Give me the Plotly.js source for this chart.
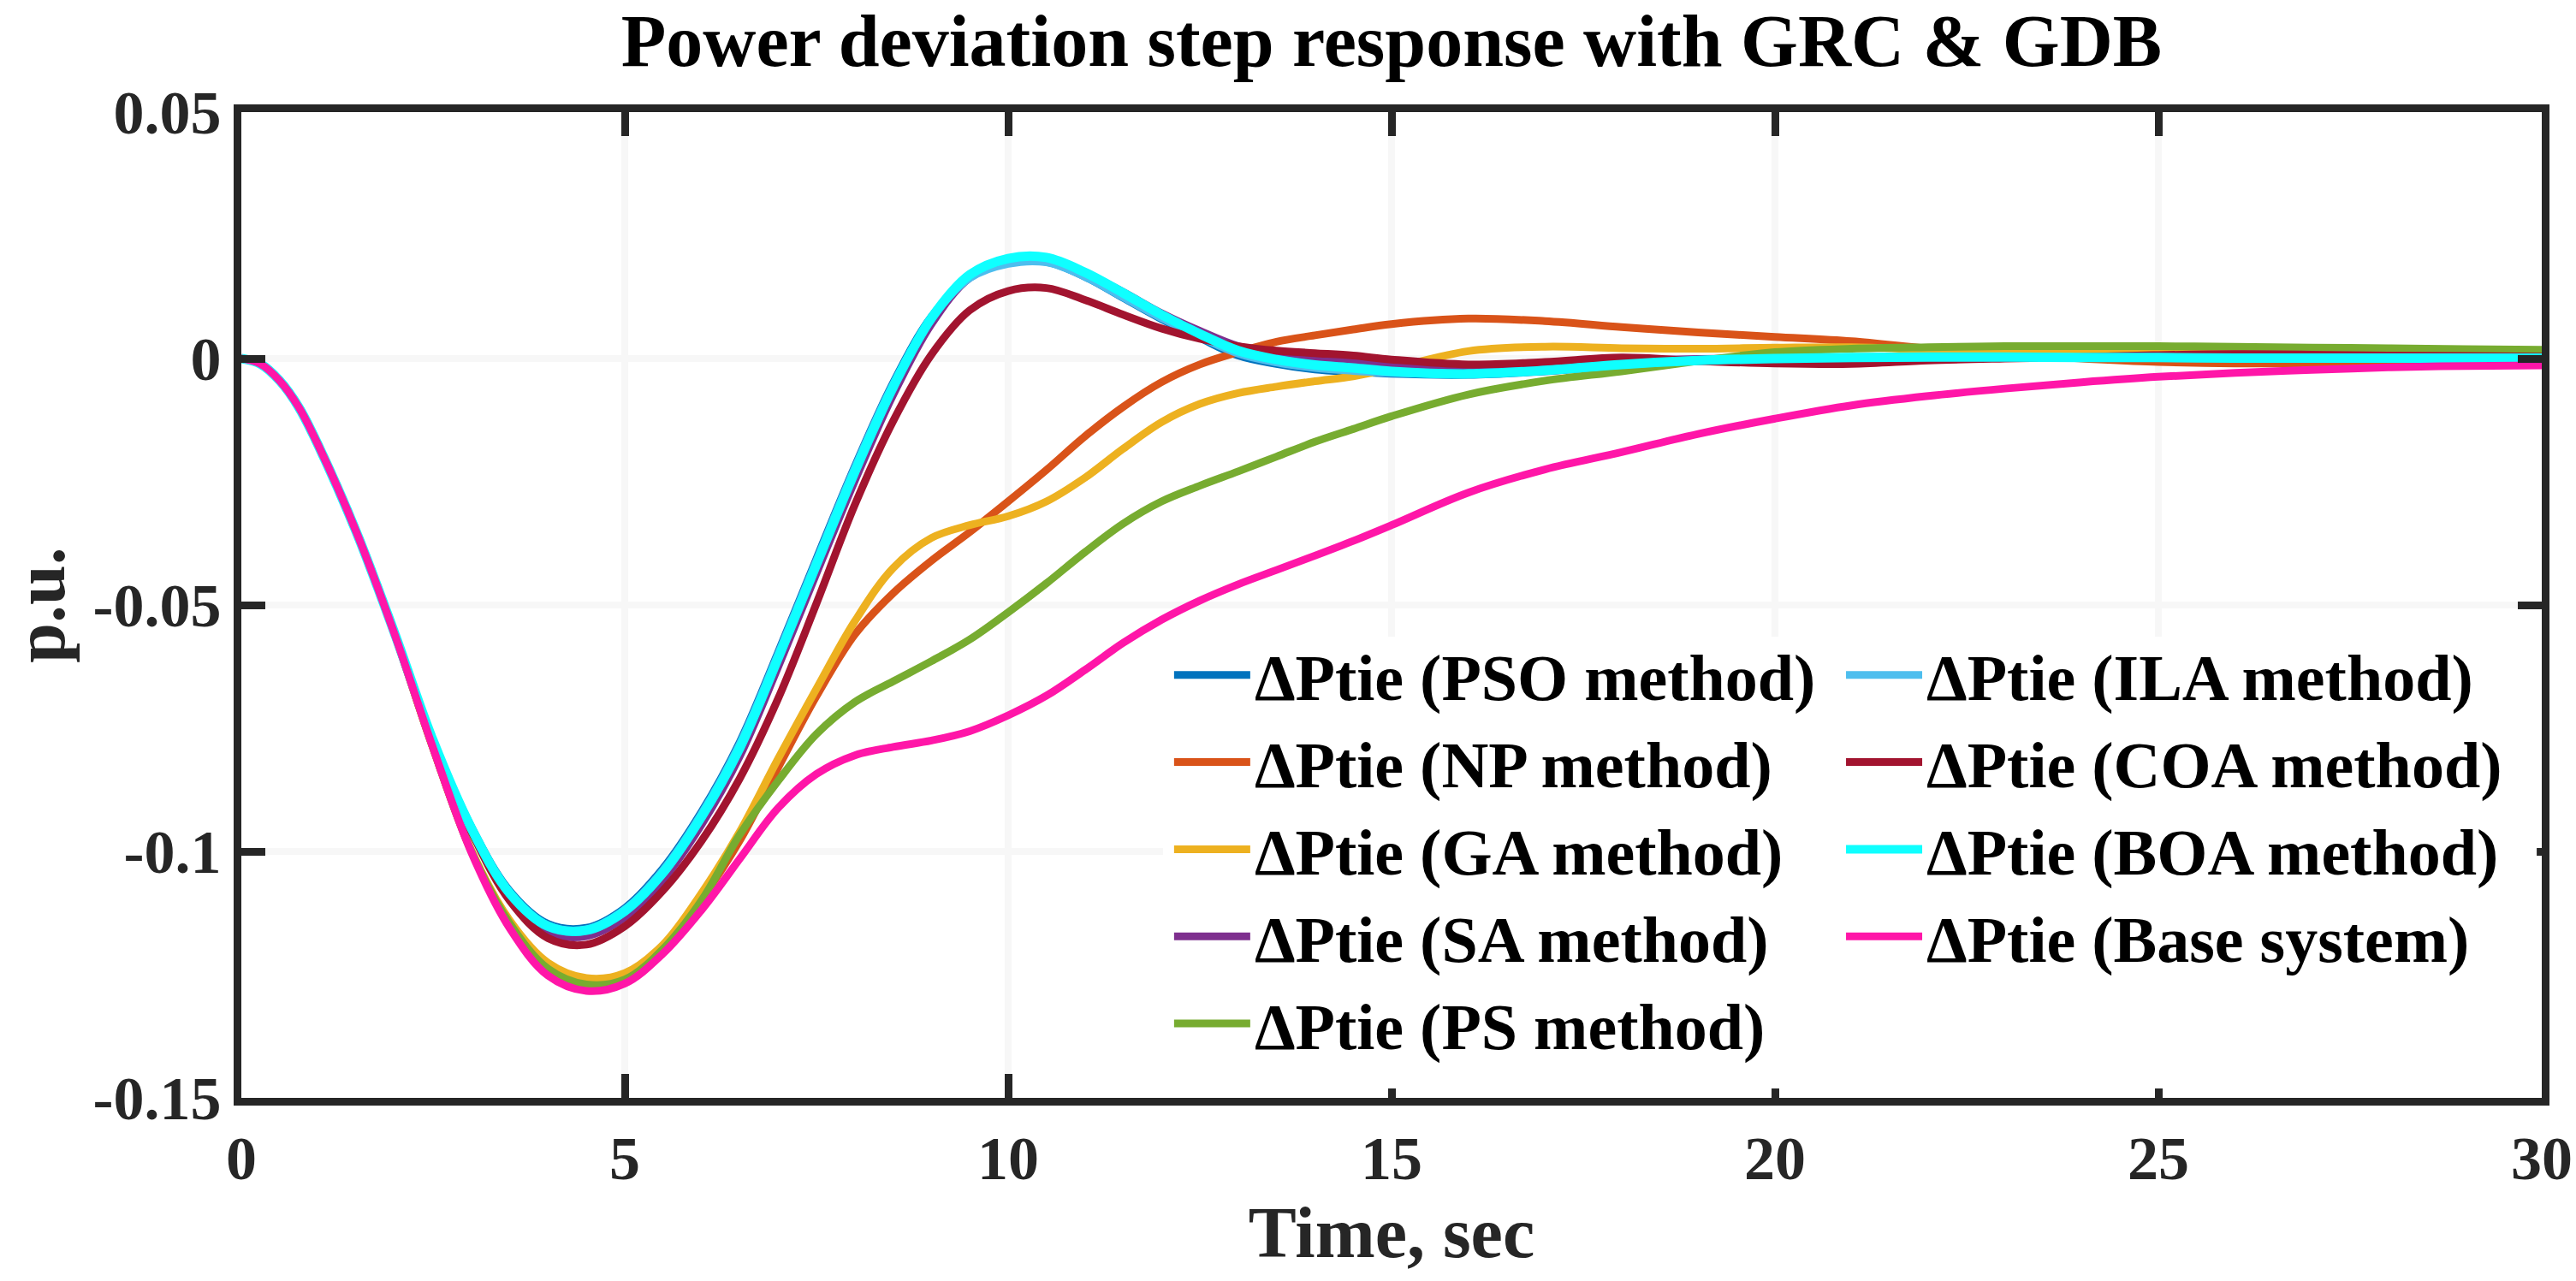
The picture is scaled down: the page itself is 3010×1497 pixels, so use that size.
<!DOCTYPE html>
<html>
<head>
<meta charset="utf-8">
<script src="https://cdn.plot.ly/plotly-3.0.1.min.js"></script>
<style>html,body{margin:0;padding:0;background:#fff}</style>
</head>
<body>
<div id="chart" style="width:3010px;height:1497px"></div>
<script>
// time axis (s)
const timeSec = [0,0.25,0.5,0.75,1,1.5,2,2.5,3,3.5,4,4.5,5,5.5,6,6.5,7,7.5,8,8.5,9,9.5,10,10.5,11,11.5,12,12.5,13,13.5,14,14.5,15,16,17,18,19,20,21,22,23,24,25,26,27,28,29,30];

// series values (p.u.)
const psoMethod = [0,-0.0011,-0.0045,-0.0099,-0.0175,-0.0352,-0.0558,-0.0774,-0.0950,-0.1080,-0.1147,-0.1155,-0.1115,-0.1034,-0.0920,-0.0778,-0.0596,-0.0406,-0.0219,-0.0049,0.0085,0.0165,0.0194,0.0196,0.0166,0.0123,0.0080,0.0042,0.0006,-0.0011,-0.0022,-0.0027,-0.0031,-0.0033,-0.0026,-0.0014,-0.0005,-0.0001,0.0001,0.0002,0.0002,0.0002,0.0001,0.0001,0.0001,0.0001,0.0001,0.0001];
const npMethod = [0,-0.0011,-0.0045,-0.0099,-0.0175,-0.0352,-0.056,-0.079,-0.1000,-0.1142,-0.1230,-0.1261,-0.1252,-0.1196,-0.1097,-0.0978,-0.0830,-0.0685,-0.0560,-0.0476,-0.0410,-0.0352,-0.0290,-0.0226,-0.0158,-0.0098,-0.0048,-0.0012,0.0013,0.0034,0.0047,0.0059,0.0070,0.0081,0.0076,0.0064,0.0053,0.0044,0.0035,0.0020,0.0008,0.0000,-0.0007,-0.0010,-0.0009,-0.0007,-0.0005,-0.0004];
const gaMethod = [0,-0.0011,-0.0045,-0.0099,-0.0175,-0.0352,-0.056,-0.079,-0.0998,-0.1140,-0.1226,-0.1257,-0.1247,-0.1189,-0.1085,-0.0960,-0.0812,-0.0670,-0.0533,-0.0425,-0.0364,-0.0338,-0.0320,-0.0290,-0.0242,-0.0183,-0.0129,-0.0092,-0.0070,-0.0057,-0.0046,-0.0036,-0.0020,0.0015,0.0024,0.0021,0.0020,0.0022,0.0023,0.0018,0.0014,0.0012,0.0011,0.0010,0.0008,0.0007,0.0007,0.0007];
const saMethod = [0,-0.0011,-0.0045,-0.0099,-0.0175,-0.0352,-0.0558,-0.0776,-0.0957,-0.1093,-0.1164,-0.1172,-0.1134,-0.1057,-0.0946,-0.0807,-0.0626,-0.0436,-0.0248,-0.0074,0.0070,0.0164,0.0197,0.0201,0.0174,0.0135,0.0092,0.0056,0.0025,0.0009,-0.0002,-0.0008,-0.0013,-0.0017,-0.0012,-0.0005,-0.0001,0.0001,0.0002,0.0002,0.0002,0.0002,0.0001,0.0001,0.0001,0.0001,0.0001,0.0001];
const psMethod = [0,-0.0011,-0.0045,-0.0099,-0.0175,-0.0352,-0.056,-0.079,-0.1000,-0.1146,-0.1238,-0.1270,-0.1260,-0.1198,-0.1100,-0.0966,-0.0857,-0.0762,-0.0697,-0.0655,-0.0614,-0.0570,-0.0515,-0.0456,-0.0393,-0.0335,-0.0290,-0.0258,-0.0229,-0.0199,-0.0169,-0.0143,-0.0117,-0.0073,-0.0045,-0.0026,-0.0005,0.0013,0.0020,0.0023,0.0025,0.0025,0.0025,0.0024,0.0022,0.0021,0.0019,0.0018];
const ilaMethod = [0,-0.0011,-0.0045,-0.0099,-0.0175,-0.0352,-0.0558,-0.0775,-0.0952,-0.1083,-0.1150,-0.1158,-0.1118,-0.1038,-0.0924,-0.0782,-0.0600,-0.0410,-0.0222,-0.0052,0.0081,0.0163,0.0192,0.0195,0.0166,0.0124,0.0082,0.0044,0.0010,-0.0008,-0.0019,-0.0025,-0.0029,-0.0032,-0.0025,-0.0013,-0.0004,0.0000,0.0002,0.0003,0.0003,0.0002,0.0002,0.0001,0.0001,0.0001,0.0001,0.0001];
const coaMethod = [0,-0.0011,-0.0045,-0.0099,-0.0175,-0.0352,-0.0558,-0.0777,-0.0960,-0.1100,-0.1176,-0.1189,-0.1152,-0.1079,-0.0979,-0.0852,-0.0690,-0.0497,-0.0297,-0.0127,0.0008,0.0098,0.0137,0.0143,0.0119,0.0089,0.0061,0.0040,0.0025,0.0016,0.0011,0.0006,-0.0002,-0.0012,-0.0007,0.0002,-0.0005,-0.0010,-0.0011,-0.0004,0.0000,0.0003,0.0007,0.0009,0.0008,0.0006,0.0005,0.0004];
const boaMethod = [0,-0.0011,-0.0045,-0.0099,-0.0175,-0.0352,-0.0558,-0.0775,-0.0953,-0.1085,-0.1152,-0.1160,-0.1121,-0.1043,-0.0930,-0.0790,-0.0608,-0.0418,-0.0230,-0.0058,0.0082,0.0170,0.0203,0.0205,0.0175,0.0133,0.0089,0.0050,0.0016,-0.0002,-0.0013,-0.0019,-0.0026,-0.0031,-0.0024,-0.0012,-0.0004,0.0000,0.0002,0.0003,0.0003,0.0002,0.0002,0.0001,0.0001,0.0001,0.0001,0.0001];
const baseSystem = [0,-0.0011,-0.0045,-0.0099,-0.0175,-0.0352,-0.056,-0.079,-0.1002,-0.1156,-0.1252,-0.1283,-0.1268,-0.1207,-0.1119,-0.1015,-0.0912,-0.0843,-0.0805,-0.0788,-0.0775,-0.0756,-0.0724,-0.0684,-0.0632,-0.0577,-0.0530,-0.0491,-0.0458,-0.0429,-0.0400,-0.0370,-0.0338,-0.0272,-0.0225,-0.0190,-0.0153,-0.0122,-0.0095,-0.0076,-0.0061,-0.0048,-0.0037,-0.0029,-0.0023,-0.0018,-0.0015,-0.0014];

// tick labels
const xTickVals = [0,5,10,15,20,25,30];
const xTickText = ['0','5','10','15','20','25','30'];
const yTickVals = [0.05,0,-0.05,-0.1,-0.15];
const yTickText = ['0.05','0','-0.05','-0.1','-0.15'];

const FONT = 'Liberation Serif';
const INK = '#262626';

function mk(name, y, color, width, legend) {
  return {
    x: timeSec, y: y, name: name, type: 'scatter', mode: 'lines',
    line: {color: color, width: width, shape: 'spline', smoothing: 1},
    legend: legend
  };
}

const traces = [
  mk('ΔPtie (PSO method)', psoMethod, '#0072BD', 9, 'legend'),
  mk('ΔPtie (NP method)', npMethod, '#D95319', 9, 'legend'),
  mk('ΔPtie (GA method)', gaMethod, '#EDB120', 9, 'legend'),
  mk('ΔPtie (SA method)', saMethod, '#7E2F8E', 9, 'legend'),
  mk('ΔPtie (PS method)', psMethod, '#77AC30', 9, 'legend'),
  mk('ΔPtie (ILA method)', ilaMethod, '#4DBEEE', 9, 'legend2'),
  mk('ΔPtie (COA method)', coaMethod, '#A2142F', 9, 'legend2'),
  mk('ΔPtie (BOA method)', boaMethod, '#0FFFFF', 11, 'legend2'),
  mk('ΔPtie (Base system)', baseSystem, '#FF16A8', 9, 'legend2')
];

const legendCommon = {
  xanchor: 'left', yanchor: 'top',
  bgcolor: 'rgba(0,0,0,0)', borderwidth: 0,
  font: {family: FONT, size: 76, color: '#000', weight: 700},
  itemwidth: 89, tracegroupgap: 0, traceorder: 'normal'
};

const layout = {
  width: 3010, height: 1497,
  margin: {l: 282, r: 40, t: 131, b: 214, pad: 0},
  paper_bgcolor: '#fff', plot_bgcolor: '#fff',
  title: {
    text: 'Power deviation step response with GRC &amp; GDB',
    font: {family: FONT, size: 86, color: '#000', weight: 700},
    x: 0.5, xref: 'paper', y: 0.969, yref: 'container', yanchor: 'middle'
  },
  xaxis: {
    range: [0, 30], tickmode: 'array', tickvals: xTickVals, ticktext: xTickText,
    showline: true, linecolor: INK, linewidth: 9, mirror: 'ticks',
    ticks: 'inside', ticklen: 28, tickwidth: 9, tickcolor: INK,
    showgrid: true, gridcolor: '#f7f7f7', gridwidth: 8, zeroline: false,
    tickfont: {family: FONT, size: 72, color: INK, weight: 700},
    title: {text: 'Time, sec', font: {family: FONT, size: 84, color: INK, weight: 700}, standoff: 20},
    automargin: false
  },
  yaxis: {
    range: [-0.15, 0.05], tickmode: 'array', tickvals: yTickVals, ticktext: yTickText,
    showline: true, linecolor: INK, linewidth: 9, mirror: 'ticks',
    ticks: 'inside', ticklen: 28, tickwidth: 9, tickcolor: INK,
    showgrid: true, gridcolor: '#f7f7f7', gridwidth: 8, zeroline: false,
    tickfont: {family: FONT, size: 72, color: INK, weight: 700},
    title: {text: 'p.u.', font: {family: FONT, size: 84, color: INK, weight: 700}, standoff: 20},
    automargin: false
  },
  legend: Object.assign({}, legendCommon, {x: 0.4036, y: 0.4775}),
  legend2: Object.assign({}, legendCommon, {x: 0.6957, y: 0.4775}),
  shapes: [{
    type: 'rect', xref: 'paper', yref: 'paper', layer: 'above',
    x0: 0.4007, x1: 0.9978, y0: 0.0095, y1: 0.4679,
    fillcolor: '#fff', line: {width: 0}
  }],
  showlegend: true
};

Plotly.newPlot('chart', traces, layout, {displayModeBar: false, staticPlot: true});
</script>
</body>
</html>
